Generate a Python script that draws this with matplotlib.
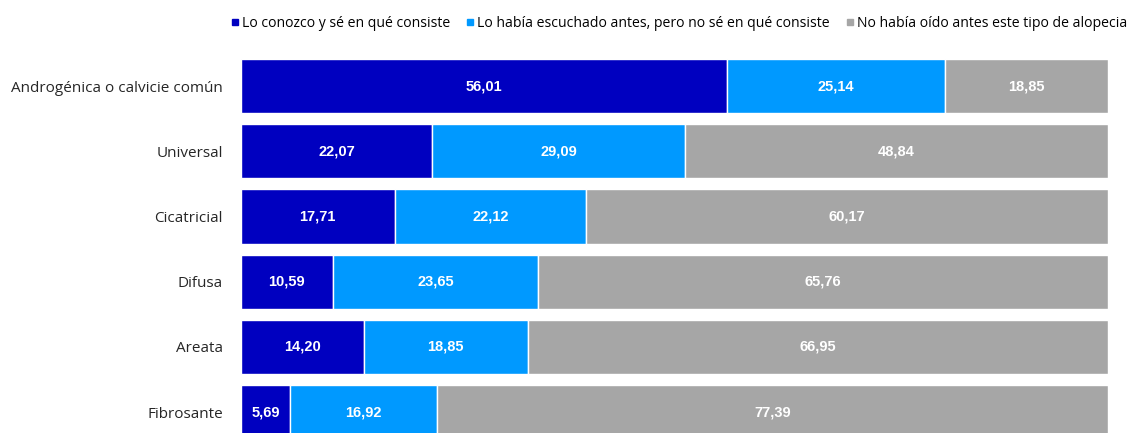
import matplotlib
matplotlib.use("Agg")
import matplotlib.pyplot as plt
from matplotlib.lines import Line2D
import numpy as np

categories = ["Androgénica o calvicie común", "Universal", "Cicatricial", "Difusa", "Areata", "Fibrosante"]
series_names = ["Lo conozco y sé en qué consiste",
                "Lo había escuchado antes, pero no sé en qué consiste",
                "No había oído antes este tipo de alopecia"]
conozco = [56.01, 22.07, 17.71, 10.59, 14.20, 5.69]
escuchado = [25.14, 29.09, 22.12, 23.65, 18.85, 16.92]
no_oido = [18.85, 48.84, 60.17, 65.76, 66.95, 77.39]
colors = ["#0000C0", "#0099FF", "#A6A6A6"]

fig = plt.figure(figsize=(11.27, 4.33), dpi=100)
ax = fig.add_axes([241/1127, 0, (1108-241)/1127, (433-59)/433])

y = np.arange(len(categories))
left = np.zeros(len(categories))
for vals, col in zip([conozco, escuchado, no_oido], colors):
    vals = np.array(vals)
    ax.barh(y, vals, left=left, height=0.83, color=col, edgecolor="white", linewidth=1)
    for yi, l, v in zip(y, left, vals):
        ax.text(l + v / 2, yi, f"{v:.2f}".replace(".", ","), ha="center", va="center",
                color="white", fontsize=10.5, fontweight="bold", family="Liberation Sans")
    left += vals

ax.set_xlim(0, 100)
ax.set_ylim(5.32, -0.415)
ax.set_yticks(y)
ax.set_yticklabels(categories, fontsize=11, family="Open Sans", color="#262626")
ax.tick_params(axis="y", length=0, pad=13)
ax.set_xticks([])
for s in ax.spines.values():
    s.set_visible(False)

handles = [Line2D([0], [0], marker="s", linestyle="none", markersize=5, color=c) for c in colors]
fig.legend(handles, series_names, loc="upper right", bbox_to_anchor=(1.008, 0.984), ncol=3,
           frameon=False, prop={"family": "Open Sans", "size": 10.1}, handletextpad=0.0,
           columnspacing=0.9, handlelength=1.0, borderaxespad=0.25)

fig.savefig("out.png", dpi=100)
